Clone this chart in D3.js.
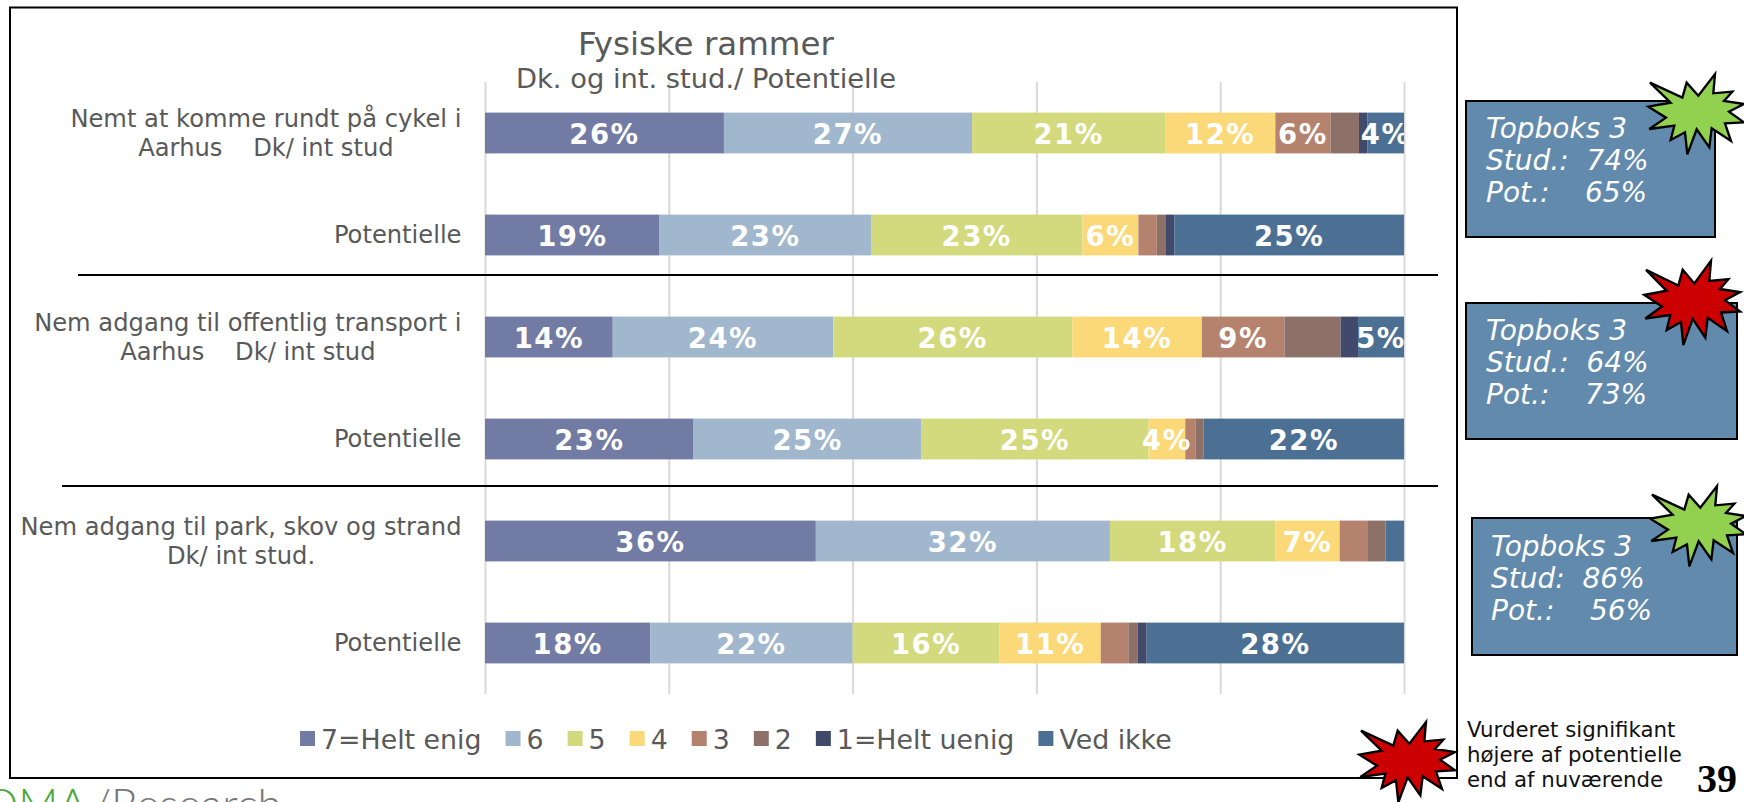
<!DOCTYPE html>
<html>
<head>
<meta charset="utf-8">
<script src="https://cdn.jsdelivr.net/npm/d3@7/dist/d3.min.js"></script>
<style>
html,body{margin:0;padding:0;background:#fff;overflow:hidden}
svg{display:block}
text{font-family:"DejaVu Sans",sans-serif;white-space:pre}
</style>
</head>
<body>
<svg id="chart" width="1744" height="802"></svg>
<script>
const rows = ["r1","r2","r3","r4","r5","r6"];
const rowLabels = [
  ["Nemt at komme rundt på cykel i","Aarhus    Dk/ int stud"],
  ["Potentielle"],
  ["Nem adgang til offentlig transport i","Aarhus    Dk/ int stud"],
  ["Potentielle"],
  ["Nem adgang til park, skov og strand","Dk/ int stud."],
  ["Potentielle"]
];
const seriesNames = ["7=Helt enig","6","5","4","3","2","1=Helt uenig","Ved ikke"];
const seriesColors = ["#727ba3","#a0b7ce","#d3da7d","#fbd979","#b5826e","#8d7168","#424a6c","#4c7093"];
const s7 = [26,19,13.9,22.7,36,18];
const s6 = [27,23,24,24.8,32,22];
const s5 = [21,23,26,24.7,18,16];
const s4 = [12,6.1,14.1,4,7,11];
const s3 = [6,2,9,1.1,3,3];
const s2 = [3.1,1,6.1,0.9,2,1];
const s1 = [0.9,0.9,1.9,0,0,1];
const sV = [4,25,5,21.8,2,28];
const seriesValues = [s7,s6,s5,s4,s3,s2,s1,sV];
const unlabelled = ["2","1=Helt uenig"];
const title = "Fysiske rammer";
const subtitle = "Dk. og int. stud./ Potentielle";
const topBoxes = [
  ["Topboks 3","Stud.:  74%","Pot.:    65%"],
  ["Topboks 3","Stud.:  64%","Pot.:    73%"],
  ["Topboks 3","Stud:  86%","Pot.:    56%"]
];
const noteLines = ["Vurderet signifikant","højere af potentielle","end af nuværende"];
const pageNumber = "39";

const W = 1744, H = 802;
const svg = d3.select("#chart");
const x = d3.scaleLinear().domain([0,100]).range([485,1404]);
const y = d3.scaleBand().domain(rows).range([82,694]).paddingInner(0.6).paddingOuter(0.3);
const grey = "#595959";

// frame
svg.append("rect").attr("x",10).attr("y",7.5).attr("width",1447).attr("height",770.5)
  .attr("fill","#fff").attr("stroke","#000").attr("stroke-width",2);

// gridlines from the value axis
const axis = d3.axisBottom(x).tickValues(d3.range(0,101,20)).tickSize(-(694-82)).tickFormat("");
const gAxis = svg.append("g").attr("transform","translate(0,694)").call(axis);
gAxis.select(".domain").remove();
gAxis.selectAll(".tick line").attr("stroke","#d9d9d9").attr("stroke-width",2);

// title
svg.append("text").attr("x",706).attr("y",55).attr("text-anchor","middle")
  .attr("font-size",32.5).attr("fill",grey).text(title);
svg.append("text").attr("x",706).attr("y",88).attr("text-anchor","middle")
  .attr("font-size",27.3).attr("fill",grey).text(subtitle);

// stacked bars
const stacked = rows.map((r,i)=>{
  let acc = 0;
  return seriesValues.map((vals,k)=>{
    const d = {row:r, k, v:vals[i], x0:acc, x1:acc+vals[i]};
    acc += vals[i];
    return d;
  });
}).flat();

svg.append("g").selectAll("rect").data(stacked.filter(d=>d.v>0)).join("rect")
  .attr("x",d=>x(d.x0)).attr("width",d=>x(d.x1)-x(d.x0))
  .attr("y",d=>y(d.row)).attr("height",y.bandwidth())
  .attr("fill",d=>seriesColors[d.k]);

// data labels, clipped at the end of the plot
svg.append("clipPath").attr("id","plotClip").append("rect")
  .attr("x",x(0)).attr("y",82).attr("width",x(100)-x(0)).attr("height",612);
svg.append("g").attr("clip-path","url(#plotClip)").selectAll("text")
  .data(stacked.filter(d=>d.v>=3.9 && !unlabelled.includes(seriesNames[d.k]))).join("text")
  .attr("x",d=>x((d.x0+d.x1)/2)).attr("y",d=>y(d.row)+y.bandwidth()/2+10.5)
  .attr("text-anchor","middle").attr("fill","#fff")
  .attr("font-size",27.5).attr("font-weight","bold").attr("letter-spacing",1.5)
  .text(d=>Math.round(d.v)+"%");

// category labels: centred lines in a right-aligned block
const catG = svg.append("g");
rowLabels.forEach((lines,i)=>{
  const right = 461.5;
  const base = y(rows[i])+y.bandwidth()/2;
  const first = catG.append("text").attr("font-size",24.2).attr("fill",grey)
    .attr("x",right).attr("text-anchor","end").text(lines[0]);
  const w = first.node().getComputedTextLength();
  if(lines.length===1){
    first.attr("y",base+8);
  } else {
    first.attr("y",base-6);
    catG.append("text").attr("font-size",24.2).attr("fill",grey)
      .attr("x",right-w/2).attr("y",base+23).attr("text-anchor","middle").text(lines[1]);
  }
});

// dividers
svg.append("line").attr("x1",78).attr("x2",1438).attr("y1",275).attr("y2",275).attr("stroke","#000").attr("stroke-width",2);
svg.append("line").attr("x1",62).attr("x2",1438).attr("y1",486).attr("y2",486).attr("stroke","#000").attr("stroke-width",2);

// legend
const legend = svg.append("g");
let lx = 300;
seriesNames.forEach((n,k)=>{
  legend.append("rect").attr("x",lx).attr("y",731).attr("width",15).attr("height",15).attr("fill",seriesColors[k]);
  const t = legend.append("text").attr("x",lx+21).attr("y",749).attr("font-size",26.8).attr("fill",grey).text(n);
  lx += 21 + t.node().getComputedTextLength() + 24;
});

// side boxes
const boxGeo = [
  {x:1466,y:101,w:249,h:136,tx:1486,ty:138},
  {x:1466,y:303,w:271,h:136,tx:1486,ty:340},
  {x:1472,y:518,w:265,h:137,tx:1491,ty:556}
];
topBoxes.forEach((lines,i)=>{
  const b = boxGeo[i];
  svg.append("rect").attr("x",b.x).attr("y",b.y).attr("width",b.w).attr("height",b.h)
    .attr("fill","#628aad").attr("stroke","#000").attr("stroke-width",2);
  lines.forEach((l,j)=>{
    svg.append("text").attr("x",b.tx).attr("y",b.ty+j*32).attr("font-size",28)
      .attr("font-style","italic").attr("fill","#fff").text(l);
  });
});

// star bursts
const starOutline = [[60,68],[122,128],[55,140],[108,173],[58,207],[133,197],[122,240],[165,217],[172,283],[200,208],[238,262],[245,205],[303,243],[285,190],[342,187],[297,155],[342,132],[282,123],[307,95],[250,100],[255,42],[205,107],[170,68],[157,113]];
const starLine = d3.line().curve(d3.curveLinearClosed);
const stars = [
  {tx:1630,ty:60,sy:1,fill:"#92d050"},
  {tx:1626,ty:246,sy:1.05,fill:"#cc0000"},
  {tx:1632,ty:472,sy:1,fill:"#92d050"},
  {tx:1341,ty:708,sy:1,fill:"#cc0000"}
];
stars.forEach(s=>{
  svg.append("path").attr("d",starLine(starOutline))
    .attr("transform",`translate(${s.tx},${s.ty}) scale(${1/3},${s.sy/3})`)
    .attr("fill",s.fill).attr("stroke","#000").attr("stroke-width",7).attr("stroke-linejoin","miter");
});

// note
noteLines.forEach((l,j)=>{
  svg.append("text").attr("x",1467).attr("y",737+j*25).attr("font-size",21.3).attr("fill","#111").text(l);
});
svg.append("text").attr("x",1697).attr("y",792)
  .style("font-family","'Liberation Serif',serif").attr("font-weight","bold").attr("font-size",40).attr("fill","#000").text(pageNumber);

// logo cut by the page edge
svg.append("text").attr("x",87).attr("y",820).attr("text-anchor","end").style("font-family","Lato,sans-serif")
  .attr("font-weight",300).attr("font-size",44).attr("fill","#4aa83c").text("DMA");
svg.append("text").attr("x",92).attr("y",820).style("font-family","Lato,sans-serif")
  .attr("font-weight",300).attr("font-size",44).attr("fill","#777").text("/Research");
</script>
</body>
</html>
